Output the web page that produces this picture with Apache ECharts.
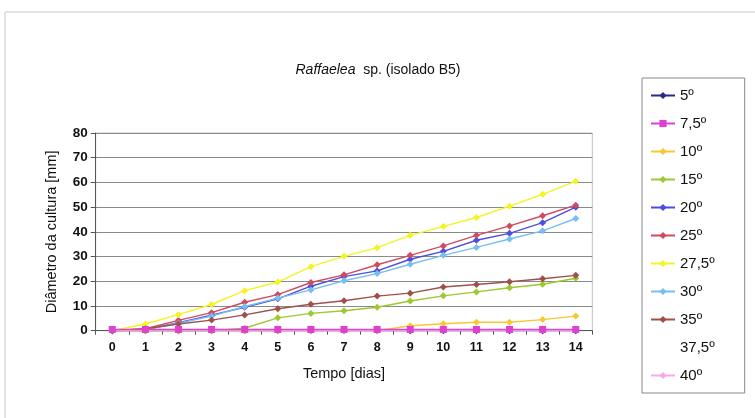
<!DOCTYPE html>
<html>
<head>
<meta charset="utf-8">
<script src="https://cdn.jsdelivr.net/npm/echarts@6/dist/echarts.min.js"></script>
<style>html,body{margin:0;padding:0;background:#fff}#c{width:755px;height:418px}</style>
</head>
<body>
<div id="c"></div>
<script>
const days = ['0','1','2','3','4','5','6','7','8','9','10','11','12','13','14'];
const names = ['5º','7,5º','10º','15º','20º','25º','27,5º','30º','35º','37,5º','40º'];
const v5   = [0,0,0,0,0,0,0,0,0,0,0,0,0,0,0];
const v75  = [0.5,0.5,0.5,0.5,0.5,0.5,0.5,0.5,0.5,0.5,0.5,0.5,0.5,0.5,0.5];
const v10  = [0,0,0,0,0,0,0,0,0,2.0,2.8,3.4,3.4,4.5,5.9];
const v15  = [0,0,0,0,1.0,5.2,7.0,8.1,9.5,12.0,14.1,15.7,17.4,18.8,21.2];
const v20  = [0,0.5,3.2,6.3,9.5,12.9,18.0,21.9,24.2,28.9,32.1,36.6,39.4,43.7,50.0];
const v25  = [0,0.8,4.2,7.3,11.5,14.6,19.5,22.6,26.7,30.5,34.3,38.6,42.4,46.5,50.8];
const v275 = [0,2.7,6.5,10.6,16.2,19.7,25.9,30.1,33.6,38.6,42.2,45.8,50.4,55.2,60.5];
const v30  = [0,0.5,3.0,5.9,9.8,13.2,16.5,20.2,23.1,26.9,30.5,33.7,37.1,40.4,45.4];
const v35  = [0,0.8,2.7,4.3,6.4,8.9,10.7,12.1,14.0,15.2,17.7,18.7,19.8,21.0,22.4];
const v375 = []; // not visible in the reference
const v40  = [0,0,0,0,0,0,0,0,0,0,0,0,0,0,0];
const values = [v5,v75,v10,v15,v20,v25,v275,v30,v35,v375,v40];
const colors = ['#2a2a8a','#e040d0','#f8c830','#9cc830','#4d4de0','#d04a60','#f4f420','#78bff0','#a0504a','#ffffff','#f8a8f0'];
const symbols = ['diamond','rect','diamond','diamond','diamond','diamond','diamond','diamond','diamond','none','diamond'];
const sizes = [7,7,7,7,7,7,7,7,7,0,5];

const font = 'Liberation Sans, Arial, sans-serif';
const chart = echarts.init(document.getElementById('c'), null, {renderer:'canvas'});
chart.setOption({
  animation:false,
  backgroundColor:'#fff',
  textStyle:{fontFamily:font},
  graphic:[{type:'rect', shape:{x:5,y:12,width:800,height:500}, style:{fill:'none', stroke:'#c8c8c8', lineWidth:1}, silent:true}],
  title:{
    text:'{i|Raffaelea}  sp. (isolado B5)',
    left:373, top:58, textAlign:'center',
    textStyle:{fontSize:14, fontWeight:'normal', color:'#111', fontFamily:font,
      rich:{i:{fontStyle:'italic', fontSize:14, color:'#111', fontFamily:font}}}
  },
  legend:{
    orient:'vertical', left:642, top:78,
    padding:[9,30,9,8],
    itemWidth:24, itemHeight:9, itemGap:11,
    borderColor:'#888', borderWidth:1,
    textStyle:{fontSize:15, color:'#111', fontFamily:font, lineHeight:17},
    data:names
  },
  grid:{left:95.7, right:162.7, top:133, bottom:87.3, show:true, borderColor:'#c0c0c0', borderWidth:1},
  xAxis:{
    type:'category', data:days, boundaryGap:true,
    name:'Tempo [dias]', nameLocation:'middle', nameGap:36,
    nameTextStyle:{fontSize:14.5, color:'#111', fontFamily:font},
    axisLine:{lineStyle:{color:'#555'}},
    axisTick:{show:true, length:4, lineStyle:{color:'#555'}},
    axisLabel:{fontSize:12.5, fontWeight:'bold', color:'#111', margin:10, fontFamily:font},
    splitLine:{show:false}
  },
  yAxis:{
    type:'value', min:0, max:80, interval:10,
    name:'Diâmetro da cultura [mm]', nameLocation:'middle', nameGap:36,
    nameTextStyle:{fontSize:14.5, color:'#111', fontFamily:font},
    axisLine:{show:true, lineStyle:{color:'#555'}},
    axisTick:{show:true, length:5, lineStyle:{color:'#555'}},
    axisLabel:{fontSize:13.5, fontWeight:'bold', color:'#111', margin:8, fontFamily:font},
    splitLine:{lineStyle:{color:'#8a8a8a', width:1}}
  },
  series: names.map((n,i)=>({
    name:n, type:'line', data:values[i],
    symbol:symbols[i], symbolSize:sizes[i], showSymbol:symbols[i]!=='none',
    lineStyle:{color:colors[i], width:1.4},
    itemStyle:{color:colors[i]},
    z: i===1 ? 5 : 2
  }))
});
</script>
</body>
</html>
